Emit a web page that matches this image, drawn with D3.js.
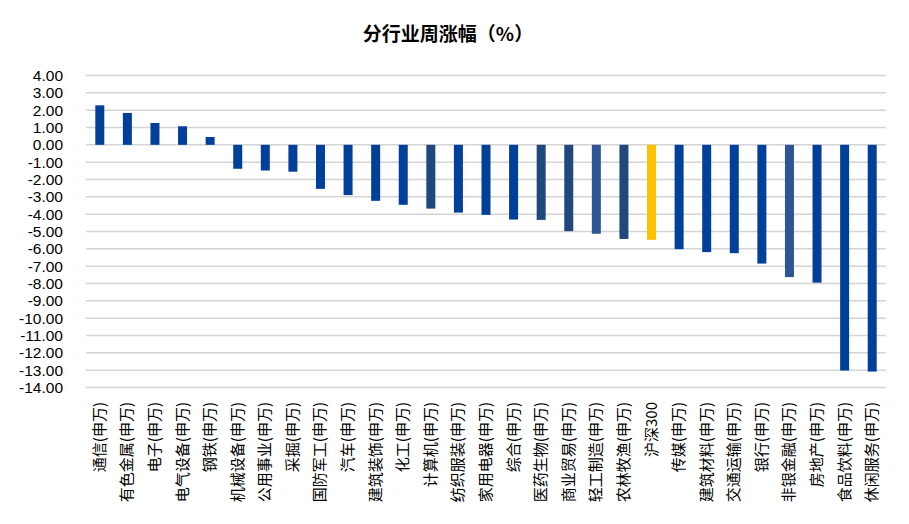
<!DOCTYPE html>
<html>
<head>
<meta charset="utf-8">
<script src="https://cdn.jsdelivr.net/npm/d3@7"></script>
<style>
  html, body { margin: 0; padding: 0; background: #fff; }
  svg { display: block; }
</style>
</head>
<body>
<svg id="chart" width="909" height="524"></svg>
<script>
const categories = ["通信(申万)","有色金属(申万)","电子(申万)","电气设备(申万)","钢铁(申万)","机械设备(申万)","公用事业(申万)","采掘(申万)","国防军工(申万)","汽车(申万)","建筑装饰(申万)","化工(申万)","计算机(申万)","纺织服装(申万)","家用电器(申万)","综合(申万)","医药生物(申万)","商业贸易(申万)","轻工制造(申万)","农林牧渔(申万)","沪深300","传媒(申万)","建筑材料(申万)","交通运输(申万)","银行(申万)","非银金融(申万)","房地产(申万)","食品饮料(申万)","休闲服务(申万)"];
const values = [2.28, 1.84, 1.26, 1.07, 0.45, -1.38, -1.48, -1.55, -2.54, -2.90, -3.23, -3.46, -3.68, -3.91, -4.04, -4.31, -4.33, -4.98, -5.13, -5.43, -5.48, -6.02, -6.19, -6.25, -6.85, -7.63, -7.95, -13.02, -13.08];
// colour group per category: 0 = main blue, 1 = dark slate, 2 = lighter blue, 3 = benchmark
const colorGroup = [0,0,0,0,0,0,0,0,0,0,0,0,1,0,0,0,1,1,2,1,3,0,0,0,0,2,0,0,0];
const groupColors = ["#00409A", "#1F497D", "#2F5597", "#FFC000"];
const yTicks = [4,3,2,1,0,-1,-2,-3,-4,-5,-6,-7,-8,-9,-10,-11,-12,-13,-14];
const title = "分行业周涨幅（%）";

const svg = d3.select("#chart");
const margin = { left: 86, right: 23, top: 75.5, bottom: 136.5 };
const W = 909, H = 524;

const x = d3.scaleBand().domain(categories).range([margin.left, W - margin.right]).padding(0);
const y = d3.scaleLinear().domain([-14, 4]).range([H - margin.bottom, margin.top]);

const fontStack = "'Noto Sans CJK SC', 'Microsoft YaHei', sans-serif";

// title
svg.append("text")
  .attr("x", 448).attr("y", 41)
  .attr("text-anchor", "middle")
  .attr("font-family", fontStack)
  .attr("font-weight", "bold")
  .attr("font-size", 19)
  .attr("fill", "#000")
  .text(title);

// gridlines
svg.append("g").selectAll("line").data(yTicks).join("line")
  .attr("x1", margin.left).attr("x2", W - margin.right)
  .attr("y1", d => y(d)).attr("y2", d => y(d))
  .attr("stroke", "#D4D4D4").attr("stroke-width", 1.5);

// y axis labels
const yAxis = d3.axisLeft(y).tickValues(yTicks).tickFormat(d3.format(".2f")).tickSize(0).tickPadding(23);
const gy = svg.append("g").attr("transform", `translate(${margin.left},0)`).call(yAxis);
gy.select(".domain").remove();
gy.selectAll("text")
  .attr("font-family", "'Liberation Sans', Arial, sans-serif")
  .attr("font-size", 15.5)
  .attr("fill", "#000")
  .text(d => d3.format(".2f")(d).replace("−", "-"));

// bars
const barW = 9;
svg.append("g").selectAll("rect").data(values).join("rect")
  .attr("x", (d, i) => x(categories[i]) + x.bandwidth() / 2 - barW / 2)
  .attr("width", barW)
  .attr("y", d => y(Math.max(0, d)))
  .attr("height", d => Math.abs(y(d) - y(0)))
  .attr("fill", (d, i) => groupColors[colorGroup[i]]);

// x labels
svg.append("g").selectAll("text").data(categories).join("text")
  .attr("transform", d => `translate(${x(d) + x.bandwidth() / 2 + 5},${402}) rotate(-90)`)
  .attr("text-anchor", "end")
  .attr("font-family", fontStack)
  .attr("font-size", 15)
  .attr("fill", "#000")
  .text(d => d);
</script>
</body>
</html>
